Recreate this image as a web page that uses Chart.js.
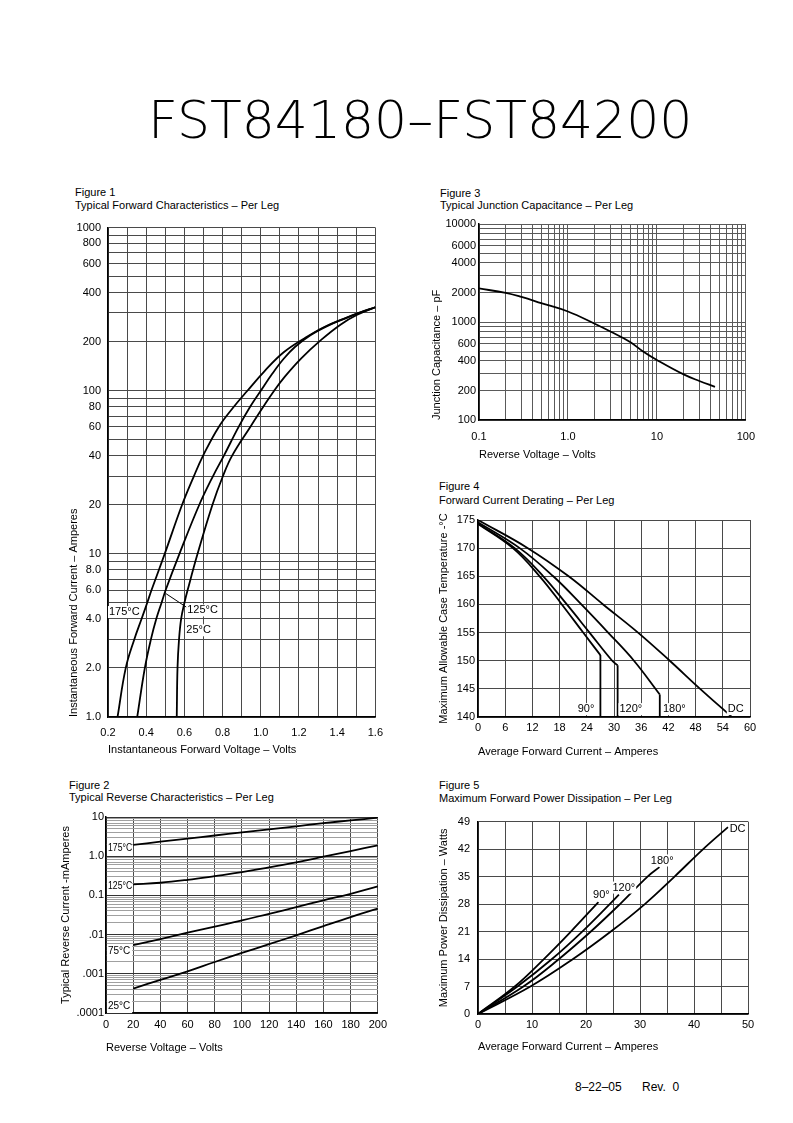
<!DOCTYPE html>
<html>
<head>
<meta charset="utf-8">
<title>FST84180-FST84200</title>
<script src="https://cdn.jsdelivr.net/npm/chart.js@4.4.1/dist/chart.umd.min.js"></script>
<style>
body { margin: 0; background: #fff; }
#page { position: relative; width: 793px; height: 1123px; overflow: hidden; background: #fff; color: #000;
        font-family: "Liberation Sans", Arial, sans-serif; }
.t { position: absolute; font-size: 11px; line-height: 12px; white-space: pre; }
canvas { position: absolute; }
#title { position: absolute; left: 148px; top: 94px; font-family: "DejaVu Sans", sans-serif; font-weight: 200;
         font-size: 52px; line-height: 52px; white-space: pre; }
</style>
</head>
<body>
<div id="page">
  <div id="title">FST84180–FST84200</div>

  <div class="t" style="left:75px;top:186px">Figure 1</div>
  <div class="t" style="left:75px;top:199px">Typical Forward Characteristics – Per Leg</div>
  <div class="t" style="left:440px;top:187px">Figure 3</div>
  <div class="t" style="left:440px;top:199px">Typical Junction Capacitance – Per Leg</div>
  <div class="t" style="left:439px;top:480px">Figure 4</div>
  <div class="t" style="left:439px;top:494px">Forward Current Derating – Per Leg</div>
  <div class="t" style="left:69px;top:779px">Figure 2</div>
  <div class="t" style="left:69px;top:791px">Typical Reverse Characteristics – Per Leg</div>
  <div class="t" style="left:439px;top:779px">Figure 5</div>
  <div class="t" style="left:439px;top:792px">Maximum Forward Power Dissipation – Per Leg</div>

  <canvas id="fig1"></canvas>
  <canvas id="fig3"></canvas>
  <canvas id="fig4"></canvas>
  <canvas id="fig2"></canvas>
  <canvas id="fig5"></canvas>

  <div class="t" style="left:575px;top:1081px;font-size:12px">8–22–05</div>
  <div class="t" style="left:642px;top:1081px;font-size:12px">Rev.  0</div>
</div>

<script>
// ---- Figure 1: typical forward characteristics [volts, amperes]
const fwd175 = [[0.25,1],[0.293,2],[0.338,3],[0.376,4],[0.405,5],[0.428,6],[0.497,10],[0.588,20],[0.65,30],
  [0.698,40],[0.78,60],[0.86,80],[0.93,100],[1.02,132],[1.12,172],[1.23,210],[1.33,245],[1.44,278],[1.52,302],[1.6,325]];
const fwd125 = [[0.353,1],[0.393,2],[0.425,3],[0.453,4],[0.48,5],[0.502,6],[0.574,10],[0.678,20],[0.75,30],
  [0.807,40],[0.884,60],[0.945,80],[1.0,100],[1.06,127],[1.12,157],[1.18,186],[1.26,219],[1.35,250],[1.44,277],[1.52,301],[1.6,325]];
const fwd25 = [[0.56,1],[0.564,2],[0.572,3],[0.583,4],[0.6,5],[0.617,6],[0.669,10],[0.747,20],[0.802,30],
  [0.85,40],[0.945,60],[1.014,80],[1.07,100],[1.126,122],[1.212,158],[1.316,205],[1.419,255],[1.505,292],[1.6,325]];
const fwdVoltLabels = ['0.2','0.4','0.6','0.8','1.0','1.2','1.4','1.6'];
const fwdAmpLabels = ['1.0','2.0','4.0','6.0','8.0','10','20','40','60','80','100','200','400','600','800','1000'];

// ---- Figure 2: typical reverse characteristics (mA vs volts)
const revVolts = [20,40,60,80,100,120,140,160,180,200];
const rev175 = [1.95,2.34,2.8,3.37,4.04,4.84,5.8,6.95,8.2,9.6];
const rev125 = [0.19,0.21,0.25,0.31,0.39,0.52,0.70,0.97,1.35,1.9];
const rev75 = [0.0054,0.0077,0.0112,0.016,0.023,0.034,0.050,0.075,0.11,0.17];
const rev25 = [0.00042,0.0007,0.00115,0.002,0.0034,0.0057,0.0096,0.0165,0.028,0.046];
const revVoltLabels = ['0','20','40','60','80','100','120','140','160','180','200'];
const revAmpLabels = ['.0001','.001','.01','0.1','1.0','10'];

// ---- Figure 3: junction capacitance (pF vs volts)
const capVolts = [0.1,0.2,0.3,0.5,1,2,3,5,7,10,20,30,45];
const capPf = [2200,1980,1800,1560,1280,960,800,625,500,410,292,250,218];
const capVoltLabels = ['0.1','1.0','10','100'];
const capPfLabels = ['100','200','400','600','1000','2000','4000','6000','10000'];

// ---- Figure 4: forward current derating [amperes, degC]
const derateDC = [[0,175],[11,170],[20,165],[27.6,160],[35.3,155],[42.3,150],[49,145],[56,140]];
const derate180 = [[0,174.6],[9.2,170],[16.6,165],[22.8,160],[28.7,155],[34.4,150],[40.1,144]];
const derate120 = [[0,174.4],[8.1,170],[14.4,165],[19.6,160],[24.6,155],[29.6,150],[30.8,149.2]];
const derate90 = [[0,174.3],[7.7,170],[13.6,165],[18.5,160],[23.2,155],[27,151]];
const derateAmpLabels = ['0','6','12','18','24','30','36','42','48','54','60'];
const derateTempLabels = ['140','145','150','155','160','165','170','175'];

// ---- Figure 5: forward power dissipation [amperes, watts]
const pwr90 = [[0,0],[6.8,7],[12.2,14],[17.2,21],[22.3,28.5]];
const pwr120 = [[0,0],[7.3,7],[13.7,14],[19.3,21],[24.4,28],[26.1,30.4]];
const pwr180 = [[0,0],[8.4,7],[15.0,14],[20.9,21],[26.3,28],[31.4,35],[33.6,37.4]];
const pwrDC = [[0,0],[9.7,7],[17.6,14],[24.6,21],[30.9,28],[36.4,35],[41.7,42],[46.3,47.6]];
const pwrAmpLabels = ['0','10','20','30','40','50'];
const pwrWattLabels = ['0','7','14','21','28','35','42','49'];

const FONT = '"Liberation Sans", Arial, sans-serif';
const GRID = '#4a4a4a';
Chart.defaults.font.family = FONT;
Chart.defaults.font.size = 11;
Chart.defaults.color = '#000';

function sameVal(a, b) { return Math.abs(a - b) <= 1e-9 + Math.abs(b) * 1e-6; }
function labelFrom(list) {
  return v => { const hit = list.find(l => sameVal(v, parseFloat(l))); return hit === undefined ? '' : hit; };
}
// every 1..9 x 10^n step between two powers of ten
function logSteps(min, max) {
  const out = [];
  for (let e = Math.round(Math.log10(min)); e < Math.round(Math.log10(max)); e++) {
    for (let m = 1; m < 10; m++) out.push(Number((m * Math.pow(10, e)).toPrecision(3)));
  }
  out.push(max);
  return out;
}
function isDecade(v) { const l = Math.log10(v); return Math.abs(l - Math.round(l)) < 1e-6; }

function curve(points) {
  return { data: points.map(p => ({ x: p[0], y: p[1] })), borderColor: '#000',
           borderWidth: 1.8, pointRadius: 0, tension: 0.4, fill: false };
}
function straight(points) {
  return { data: points.map(p => ({ x: p[0], y: p[1] })), borderColor: '#000',
           borderWidth: 1.8, pointRadius: 0, tension: 0, fill: false };
}
function axisTitle(text, align, padTop) {
  return { display: true, text, align, padding: { top: padTop, bottom: 0 }, color: '#000', font: { size: 11 } };
}
function linAxis(pos, min, max, step, labels, pad, title) {
  return {
    type: 'linear', position: pos, min, max,
    ticks: { stepSize: step, autoSkip: false, maxRotation: 0, padding: pad, callback: labelFrom(labels) },
    grid: { color: GRID, lineWidth: 1, drawTicks: false },
    border: { color: '#000', width: 1.5 },
    title
  };
}
function logAxis(pos, min, max, labels, pad, title, gridColor) {
  return {
    type: 'logarithmic', position: pos, min, max,
    afterBuildTicks: s => { s.ticks = logSteps(min, max).map(v => ({ value: v })); },
    ticks: { autoSkip: false, maxRotation: 0, padding: pad, callback: labelFrom(labels) },
    grid: { color: gridColor || GRID, lineWidth: 1, drawTicks: false },
    border: { color: '#000', width: 1.5 },
    title
  };
}

// text tags next to the curves, in data coordinates
function curveLabels(items, leaders, size, boxed) {
  return {
    id: 'curveLabels',
    afterDatasetsDraw(chart) {
      const ctx = chart.ctx, xs = chart.scales.x, ys = chart.scales.y;
      ctx.save();
      ctx.strokeStyle = '#000';
      ctx.lineWidth = 1;
      (leaders || []).forEach(l => {
        ctx.beginPath();
        ctx.moveTo(xs.getPixelForValue(l[0]), ys.getPixelForValue(l[1]));
        ctx.lineTo(xs.getPixelForValue(l[2]), ys.getPixelForValue(l[3]));
        ctx.stroke();
      });
      ctx.font = size + 'px ' + FONT;
      ctx.textBaseline = 'middle';
      items.forEach(it => {
        const px = xs.getPixelForValue(it.x), py = ys.getPixelForValue(it.y);
        const w = ctx.measureText(it.text).width;
        ctx.fillStyle = '#fff';
        if (boxed) {
          const x0 = xs.getPixelForValue(it.x) + 1, x1 = xs.getPixelForValue(it.to) - 1;
          ctx.fillRect(x0, py - 7, x1 - x0, 14);
          ctx.fillStyle = '#000';
          ctx.fillText(it.text, x0 + 1, py, x1 - x0 - 1);
        } else {
          ctx.fillRect(px - 1, py - 6, w + 2, 12);
          ctx.fillStyle = '#000';
          ctx.fillText(it.text, px, py);
        }
      });
      ctx.restore();
    }
  };
}

function makeChart(id, box, xScale, yScale, datasets, plugins) {
  const cv = document.getElementById(id);
  const w = box.yw + box.plotW + box.pr, h = box.pt + box.plotH + box.xh;
  cv.width = w; cv.height = h;
  cv.style.left = box.left + 'px'; cv.style.top = box.top + 'px';
  cv.style.width = w + 'px'; cv.style.height = h + 'px';
  xScale.afterFit = s => { s.height = box.xh; };
  yScale.afterFit = s => { s.width = box.yw; };
  return new Chart(cv, {
    type: 'line',
    data: { datasets },
    options: {
      responsive: false,
      animation: false,
      events: [],
      layout: { padding: { top: box.pt, right: box.pr, left: 0, bottom: 0 } },
      plugins: { legend: { display: false }, tooltip: { enabled: false } },
      scales: { x: xScale, y: yScale }
    },
    plugins: plugins || []
  });
}

// Figure 1
makeChart('fig1', { left: 60, top: 214, yw: 48, plotW: 270, pr: 14, pt: 10, plotH: 493, xh: 40 },
  linAxis('bottom', 0.2, 1.6, 0.1, fwdVoltLabels, 9, axisTitle('Instantaneous Forward Voltage – Volts', 'start', 0)),
  logAxis('left', 1, 1000, fwdAmpLabels, 7, axisTitle('Instantaneous Forward Current – Amperes', 'start', 7)),
  [curve(fwd175), curve(fwd125), curve(fwd25)],
  [curveLabels([
    { text: '175°C', x: 0.205, y: 4.4 },
    { text: '125°C', x: 0.615, y: 4.5 },
    { text: '25°C', x: 0.61, y: 3.4 }
  ], [[0.504, 5.7, 0.612, 4.7]], 11, false)]);

// Figure 3
makeChart('fig3', { left: 428, top: 214, yw: 51, plotW: 272, pr: 14, pt: 10, plotH: 196, xh: 42 },
  logAxis('bottom', 0.1, 100, capVoltLabels, 10, axisTitle('Reverse Voltage – Volts', 'start', 0), '#5a5a5a'),
  logAxis('left', 100, 10000, capPfLabels, 3, axisTitle('Junction Capacitance – pF', 'start', 2), '#5a5a5a'),
  [curve(capVolts.map((v, i) => [v, capPf[i]]))]);

// Figure 4
const derateMin = 140;
const drop = s => straight([s[s.length - 1], [s[s.length - 1][0], derateMin]]);
makeChart('fig4', { left: 428, top: 510, yw: 50, plotW: 272, pr: 14, pt: 10, plotH: 197, xh: 42 },
  linAxis('bottom', 0, 60, 6, derateAmpLabels, 4, axisTitle('Average Forward Current – Amperes', 'start', 0)),
  linAxis('left', derateMin, 175, 5, derateTempLabels, 3, axisTitle('Maximum Allowable Case Temperature -°C', 'center', 9)),
  [curve(derateDC), curve(derate180), drop(derate180), curve(derate120), drop(derate120), curve(derate90), drop(derate90)],
  [curveLabels([
    { text: '90°', x: 22, y: 141.4 },
    { text: '120°', x: 31.2, y: 141.4 },
    { text: '180°', x: 40.8, y: 141.4 },
    { text: 'DC', x: 55.1, y: 141.4 }
  ], [], 11, false)]);

// Figure 2
const revGrid = c => (c.tick && isDecade(c.tick.value) ? '#333' : '#a0a0a0');
makeChart('fig2', { left: 55, top: 807, yw: 51, plotW: 272, pr: 14, pt: 10, plotH: 196, xh: 42 },
  linAxis('bottom', 0, 200, 20, revVoltLabels, 5, axisTitle('Reverse Voltage – Volts', 'start', 0)),
  logAxis('left', 0.0001, 10, revAmpLabels, 2, axisTitle('Typical Reverse Current -mAmperes', 'center', 4), revGrid),
  [curve(revVolts.map((v, i) => [v, rev175[i]])), curve(revVolts.map((v, i) => [v, rev125[i]])),
   curve(revVolts.map((v, i) => [v, rev75[i]])), curve(revVolts.map((v, i) => [v, rev25[i]]))],
  [curveLabels([
    { text: '175°C', x: 0, to: 20, y: 1.6 },
    { text: '125°C', x: 0, to: 20, y: 0.17 },
    { text: '75°C', x: 0, to: 20, y: 0.0037 },
    { text: '25°C', x: 0, to: 20, y: 0.00015 }
  ], [], 10, true)]);

// Figure 5
makeChart('fig5', { left: 428, top: 807, yw: 50, plotW: 270, pr: 14, pt: 10, plotH: 197, xh: 40 },
  linAxis('bottom', 0, 50, 5, pwrAmpLabels, 4, axisTitle('Average Forward Current – Amperes', 'start', 0)),
  linAxis('left', 0, 49, 7, pwrWattLabels, 8, axisTitle('Maximum Power Dissipation – Watts', 'center', 9)),
  [curve(pwr90), curve(pwr120), curve(pwr180), curve(pwrDC)],
  [curveLabels([
    { text: '90°', x: 21.3, y: 30.2 },
    { text: '120°', x: 24.9, y: 32.2 },
    { text: '180°', x: 32, y: 39.1 },
    { text: 'DC', x: 46.6, y: 47.1 }
  ], [], 11, false)]);
</script>
</body>
</html>
